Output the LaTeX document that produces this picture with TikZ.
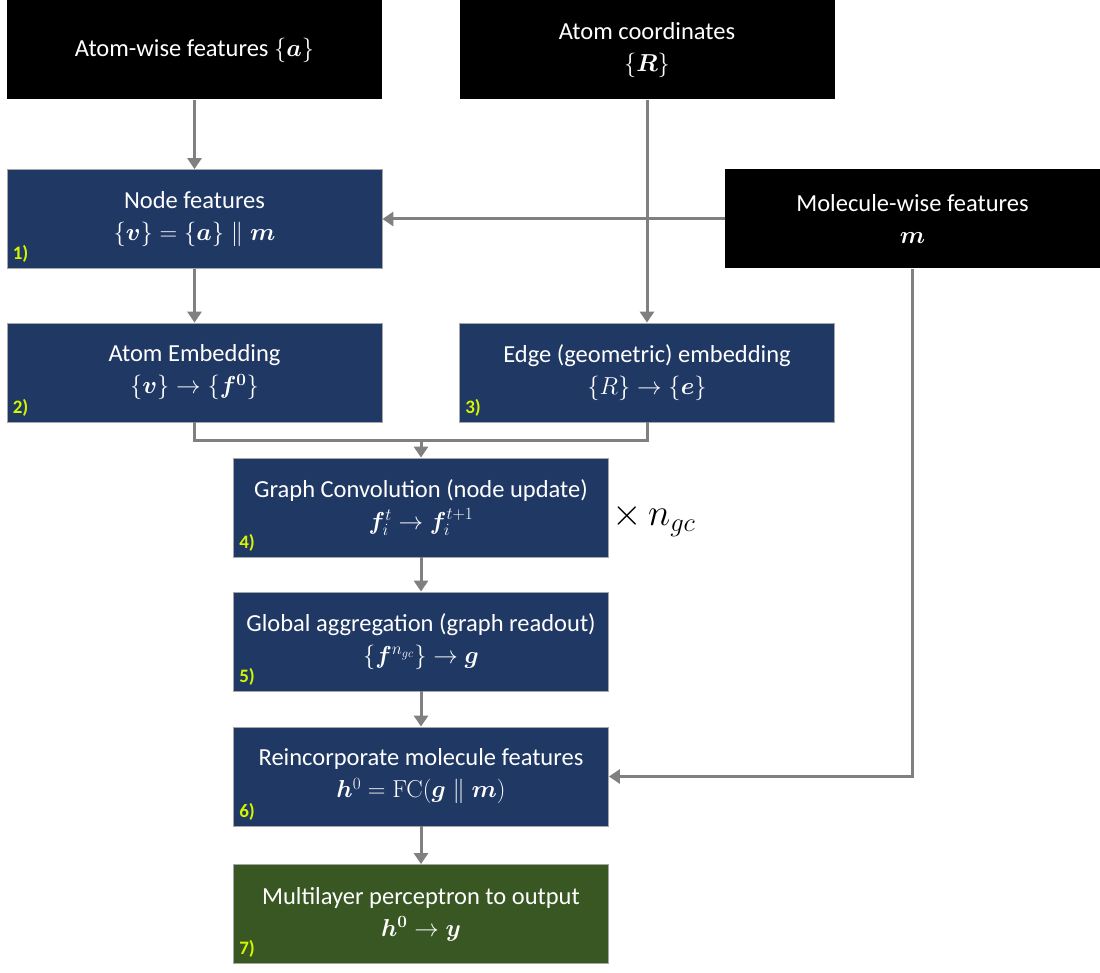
\RequirePackage{fix-cm}
\documentclass[tikz,border=0pt]{standalone}
\usepackage{amsmath,bm}
\usepackage[no-math]{fontspec}
\setmainfont{Carlito}
\usetikzlibrary{arrows.meta}
\definecolor{boxblue}{HTML}{203864}
\definecolor{boxgreen}{HTML}{385723}
\definecolor{lblyellow}{HTML}{D4F500}
\definecolor{linegray}{HTML}{808080}
\tikzset{
  base/.style={minimum width=375pt, minimum height=99pt, inner sep=0pt, align=center, text=white,
     font=\fontsize{24.5}{32}\selectfont},
  blackbox/.style={base, fill=black},
  bluebox/.style={base, fill=boxblue, draw=gray!70, line width=0.8pt},
  greenbox/.style={base, fill=boxgreen, draw=gray!70, line width=0.8pt},
  numlbl/.style={anchor=south west, text=lblyellow, font=\fontsize{19}{20}\selectfont\bfseries, inner sep=0pt, xshift=6pt, yshift=6pt},
  conn/.style={draw=linegray, line width=3pt},
  arr/.style={conn, -{Triangle[width=14pt,length=11pt]}},
}
\begin{document}
\begin{tikzpicture}[x=1pt,y=-1pt]
\useasboundingbox (0,0) rectangle (1100,973);
\node[blackbox] (A) at (194.5,50) {Atom-wise features $\{\bm{a}\}$};
\node[blackbox] (B) at (647,50) {Atom coordinates\\$\{\bm{R}\}$};
\node[bluebox] (N) at (194.5,219) {Node features\\$\{\bm{v}\}=\{\bm{a}\}\parallel\bm{m}$};
\node[blackbox] (M) at (912.5,219) {Molecule-wise features\\$\bm{m}$};
\node[bluebox] (AE) at (194.5,372.5) {Atom Embedding\\$\{\bm{v}\}\rightarrow\{\bm{f}^{\bm{0}}\}$};
\node[bluebox] (EE) at (647,372.5) {Edge (geometric) embedding\\$\{R\}\rightarrow\{\bm{e}\}$};
\node[bluebox] (GC) at (421,507.5) {Graph Convolution (node update)\\$\bm{f}_i^{t}\rightarrow\bm{f}_i^{t+1}$};
\node[bluebox] (GA) at (421,641.5) {Global aggregation (graph readout)\\$\{\bm{f}^{n_{gc}}\}\rightarrow\bm{g}$};
\node[bluebox] (RM) at (421,776.5) {Reincorporate molecule features\\$\bm{h}^{0}=\mathrm{FC}(\bm{g}\parallel\bm{m})$};
\node[greenbox] (MLP) at (421,914) {Multilayer perceptron to output\\$\bm{h}^{\bm{0}}\rightarrow\bm{y}$};
\node[numlbl] (l1) at (N.south west) {1)};
\node[numlbl] (l2) at (AE.south west) {2)};
\node[numlbl] (l3) at (EE.south west) {3)};
\node[numlbl] (l4) at (GC.south west) {4)};
\node[numlbl] (l5) at (GA.south west) {5)};
\node[numlbl] (l6) at (RM.south west) {6)};
\node[numlbl] (l7) at (MLP.south west) {7)};
\node[anchor=west, inner sep=0pt, font=\fontsize{38}{40}\selectfont] (rep) at (612,520) {$\times\,n_{gc}$};
\coordinate (j) at (421,440);
\draw[arr] (A.south) -- (N.north);
\draw[arr] (B.south) -- (EE.north);
\draw[arr] (M.west) -- (N.east);
\draw[arr] (N.south) -- (AE.north);
\draw[conn] (AE.south) |- (j);
\draw[conn] (EE.south) |- (j);
\draw[arr] (j) -- (GC.north);
\draw[arr] (GC.south) -- (GA.north);
\draw[arr] (GA.south) -- (RM.north);
\draw[arr] (RM.south) -- (MLP.north);
\draw[arr] (M.south) |- (RM.east);
\end{tikzpicture}
\end{document}
